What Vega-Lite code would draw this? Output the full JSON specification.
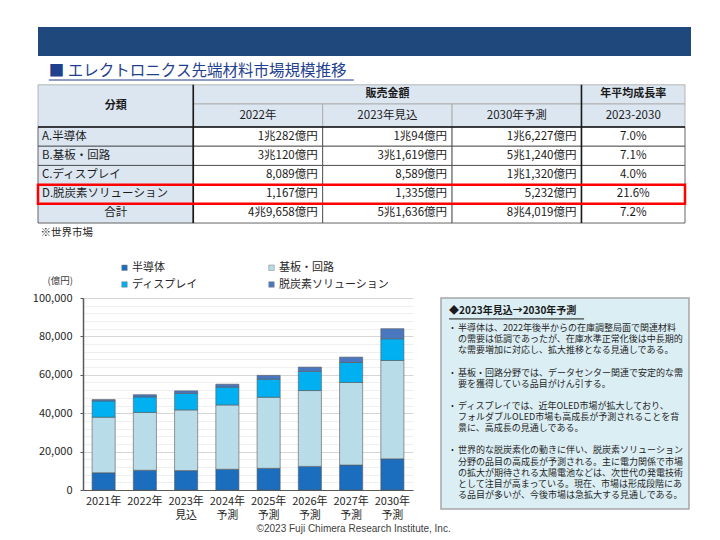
{
  "$schema": "https://vega.github.io/schema/vega-lite/v6.json",
  "background": "white",
  "padding": {"left": 32, "top": 27, "right": 10, "bottom": 4},
  "spacing": 0,
  "bounds": "flush",
  "config": {
    "font": "Noto Sans CJK JP",
    "view": {"stroke": null},
    "concat": {"spacing": 0}
  },
  "title": {
    "text": "©2023 Fuji Chimera Research Institute, Inc.",
    "orient": "bottom",
    "anchor": "middle",
    "font": "Liberation Sans",
    "fontSize": 10,
    "fontWeight": "normal",
    "color": "#404040",
    "offset": 4,
    "dx": -8
  },
  "resolve": {"scale": {"color": "independent"}, "legend": {"color": "independent"}},
  "datasets": {
    "cells": [
      {"row": "H", "r0": 1.5, "r1": 3.7, "c0": 0, "c1": 6, "kind": "head1", "t": "分類"},
      {"row": "H", "r0": 1.5, "r1": 2.5, "c0": 6, "c1": 21, "kind": "head1", "t": "販売金額"},
      {"row": "H", "r0": 1.5, "r1": 2.5, "c0": 21, "c1": 25, "kind": "head1", "t": "年平均成長率"},
      {"row": "H", "r0": 2.5, "r1": 3.7, "c0": 6, "c1": 11, "kind": "head2", "t": "2022年"},
      {"row": "H", "r0": 2.5, "r1": 3.7, "c0": 11, "c1": 16, "kind": "head2", "t": "2023年見込"},
      {"row": "H", "r0": 2.5, "r1": 3.7, "c0": 16, "c1": 21, "kind": "head2", "t": "2030年予測"},
      {"row": "H", "r0": 2.5, "r1": 3.7, "c0": 21, "c1": 25, "kind": "head2", "t": "2023-2030"},
      {"row": "A", "r0": 3.7, "r1": 4.7, "c0": 0, "c1": 6, "kind": "cat", "t": "A.半導体"},
      {"row": "A", "r0": 3.7, "r1": 4.7, "c0": 6, "c1": 11, "kind": "num", "t": "1兆282億円"},
      {"row": "A", "r0": 3.7, "r1": 4.7, "c0": 11, "c1": 16, "kind": "num", "t": "1兆94億円"},
      {"row": "A", "r0": 3.7, "r1": 4.7, "c0": 16, "c1": 21, "kind": "num", "t": "1兆6,227億円"},
      {"row": "A", "r0": 3.7, "r1": 4.7, "c0": 21, "c1": 25, "kind": "rate", "t": "7.0%"},
      {"row": "B", "r0": 4.7, "r1": 5.7, "c0": 0, "c1": 6, "kind": "cat", "t": "B.基板・回路"},
      {"row": "B", "r0": 4.7, "r1": 5.7, "c0": 6, "c1": 11, "kind": "num", "t": "3兆120億円"},
      {"row": "B", "r0": 4.7, "r1": 5.7, "c0": 11, "c1": 16, "kind": "num", "t": "3兆1,619億円"},
      {"row": "B", "r0": 4.7, "r1": 5.7, "c0": 16, "c1": 21, "kind": "num", "t": "5兆1,240億円"},
      {"row": "B", "r0": 4.7, "r1": 5.7, "c0": 21, "c1": 25, "kind": "rate", "t": "7.1%"},
      {"row": "C", "r0": 5.7, "r1": 6.7, "c0": 0, "c1": 6, "kind": "cat", "t": "C.ディスプレイ"},
      {"row": "C", "r0": 5.7, "r1": 6.7, "c0": 6, "c1": 11, "kind": "num", "t": "8,089億円"},
      {"row": "C", "r0": 5.7, "r1": 6.7, "c0": 11, "c1": 16, "kind": "num", "t": "8,589億円"},
      {"row": "C", "r0": 5.7, "r1": 6.7, "c0": 16, "c1": 21, "kind": "num", "t": "1兆1,320億円"},
      {"row": "C", "r0": 5.7, "r1": 6.7, "c0": 21, "c1": 25, "kind": "rate", "t": "4.0%"},
      {"row": "D", "r0": 6.7, "r1": 7.7, "c0": 0, "c1": 6, "kind": "cat", "t": "D.脱炭素ソリューション"},
      {"row": "D", "r0": 6.7, "r1": 7.7, "c0": 6, "c1": 11, "kind": "num", "t": "1,167億円"},
      {"row": "D", "r0": 6.7, "r1": 7.7, "c0": 11, "c1": 16, "kind": "num", "t": "1,335億円"},
      {"row": "D", "r0": 6.7, "r1": 7.7, "c0": 16, "c1": 21, "kind": "num", "t": "5,232億円"},
      {"row": "D", "r0": 6.7, "r1": 7.7, "c0": 21, "c1": 25, "kind": "rate", "t": "21.6%"},
      {"row": "T", "r0": 7.7, "r1": 8.7, "c0": 0, "c1": 6, "kind": "total", "t": "合計"},
      {"row": "T", "r0": 7.7, "r1": 8.7, "c0": 6, "c1": 11, "kind": "num", "t": "4兆9,658億円"},
      {"row": "T", "r0": 7.7, "r1": 8.7, "c0": 11, "c1": 16, "kind": "num", "t": "5兆1,636億円"},
      {"row": "T", "r0": 7.7, "r1": 8.7, "c0": 16, "c1": 21, "kind": "num", "t": "8兆4,019億円"},
      {"row": "T", "r0": 7.7, "r1": 8.7, "c0": 21, "c1": 25, "kind": "rate", "t": "7.2%"}
    ],
    "market": [
      {"year": "2021年", "cat": "半導体", "value": 9000},
      {"year": "2021年", "cat": "基板・回路", "value": 28900},
      {"year": "2021年", "cat": "ディスプレイ", "value": 8500},
      {"year": "2021年", "cat": "脱炭素ソリューション", "value": 700},
      {"year": "2022年", "cat": "半導体", "value": 10282},
      {"year": "2022年", "cat": "基板・回路", "value": 30120},
      {"year": "2022年", "cat": "ディスプレイ", "value": 8089},
      {"year": "2022年", "cat": "脱炭素ソリューション", "value": 1167},
      {"year": "2023年見込", "cat": "半導体", "value": 10094},
      {"year": "2023年見込", "cat": "基板・回路", "value": 31619},
      {"year": "2023年見込", "cat": "ディスプレイ", "value": 8589},
      {"year": "2023年見込", "cat": "脱炭素ソリューション", "value": 1335},
      {"year": "2024年予測", "cat": "半導体", "value": 10800},
      {"year": "2024年予測", "cat": "基板・回路", "value": 33500},
      {"year": "2024年予測", "cat": "ディスプレイ", "value": 9300},
      {"year": "2024年予測", "cat": "脱炭素ソリューション", "value": 1500},
      {"year": "2025年予測", "cat": "半導体", "value": 11300},
      {"year": "2025年予測", "cat": "基板・回路", "value": 37000},
      {"year": "2025年予測", "cat": "ディスプレイ", "value": 9400},
      {"year": "2025年予測", "cat": "脱炭素ソリューション", "value": 2000},
      {"year": "2026年予測", "cat": "半導体", "value": 12300},
      {"year": "2026年予測", "cat": "基板・回路", "value": 39500},
      {"year": "2026年予測", "cat": "ディスプレイ", "value": 10000},
      {"year": "2026年予測", "cat": "脱炭素ソリューション", "value": 2200},
      {"year": "2027年予測", "cat": "半導体", "value": 13000},
      {"year": "2027年予測", "cat": "基板・回路", "value": 43000},
      {"year": "2027年予測", "cat": "ディスプレイ", "value": 10400},
      {"year": "2027年予測", "cat": "脱炭素ソリューション", "value": 2800},
      {"year": "2030年予測", "cat": "半導体", "value": 16227},
      {"year": "2030年予測", "cat": "基板・回路", "value": 51240},
      {"year": "2030年予測", "cat": "ディスプレイ", "value": 11320},
      {"year": "2030年予測", "cat": "脱炭素ソリューション", "value": 5232}
    ],
    "notes": [
      {"kind": "title", "ln": -1.5, "t": "◆2023年見込→2030年予測"},
      {"kind": "bullet", "ln": 0, "t": "•"},
      {"kind": "bullet", "ln": 4, "t": "•"},
      {"kind": "bullet", "ln": 7, "t": "•"},
      {"kind": "bullet", "ln": 11, "t": "•"},
      {"kind": "body", "ln": 0, "t": "半導体は、2022年後半からの在庫調整局面で関連材料"},
      {"kind": "body", "ln": 1, "t": "の需要は低調であったが、在庫水準正常化後は中長期的"},
      {"kind": "body", "ln": 2, "t": "な需要増加に対応し、拡大推移となる見通しである。"},
      {"kind": "body", "ln": 4, "t": "基板・回路分野では、データセンター関連で安定的な需"},
      {"kind": "body", "ln": 5, "t": "要を獲得している品目がけん引する。"},
      {"kind": "body", "ln": 7, "t": "ディスプレイでは、近年OLED市場が拡大しており、"},
      {"kind": "body", "ln": 8, "t": "フォルダブルOLED市場も高成長が予測されることを背"},
      {"kind": "body", "ln": 9, "t": "景に、高成長の見通しである。"},
      {"kind": "body", "ln": 11, "t": "世界的な脱炭素化の動きに伴い、脱炭素ソリューション"},
      {"kind": "body", "ln": 12, "t": "分野の品目の高成長が予測される。主に電力関係で市場"},
      {"kind": "body", "ln": 13, "t": "の拡大が期待される太陽電池などは、次世代の発電技術"},
      {"kind": "body", "ln": 14, "t": "として注目が高まっている。現在、市場は形成段階にあ"},
      {"kind": "body", "ln": 15, "t": "る品目が多いが、今後市場は急拡大する見通しである。"}
    ]
  },
  "vconcat": [
    {
      "width": 653,
      "height": 29,
      "view": {"fill": "#1f497d", "stroke": null},
      "data": {"values": [{}]},
      "mark": {"type": "text", "text": ""},
      "encoding": {}
    },
    {
      "width": 647,
      "height": 242,
      "data": {"name": "cells"},
      "transform": [
        {"calculate": "(datum.c0 + datum.c1) / 2", "as": "cx"},
        {"calculate": "(datum.r0 + datum.r1) / 2", "as": "cy"}
      ],
      "layer": [
        {
          "transform": [{"filter": "datum.kind === 'head1' || datum.kind === 'head2'"}],
          "mark": {"type": "rect", "fill": "#dce6f1", "stroke": "#a6a6a6", "strokeWidth": 0.8},
          "encoding": {
            "x": {"field": "c0", "type": "quantitative", "scale": {"domain": [0, 25], "nice": false, "zero": false}, "axis": null},
            "x2": {"field": "c1"},
            "y": {"field": "r0", "type": "quantitative", "scale": {"domain": [0, 12.604], "reverse": true, "nice": false, "zero": false}, "axis": null},
            "y2": {"field": "r1"}
          }
        },
        {
          "transform": [{"filter": "datum.kind !== 'head1' && datum.kind !== 'head2'"}],
          "mark": {"type": "rect", "stroke": "#404040", "strokeWidth": 0.8},
          "encoding": {
            "x": {"field": "c0", "type": "quantitative"},
            "x2": {"field": "c1"},
            "y": {"field": "r0", "type": "quantitative"},
            "y2": {"field": "r1"},
            "fill": {"condition": {"test": "datum.kind === 'cat' || datum.kind === 'total'", "value": "#dce6f1"}, "value": "#ffffff"}
          }
        },
        {
          "data": {"values": [{"c": 6}, {"c": 21}]},
          "mark": {"type": "rule", "stroke": "#1a1a1a", "strokeWidth": 1.6},
          "encoding": {
            "x": {"field": "c", "type": "quantitative"},
            "y": {"datum": 1.5, "type": "quantitative"},
            "y2": {"datum": 8.7}
          }
        },
        {
          "data": {"values": [{"r": 3.7}]},
          "mark": {"type": "rule", "stroke": "#1a1a1a", "strokeWidth": 1.4},
          "encoding": {
            "y": {"field": "r", "type": "quantitative"},
            "x": {"datum": 0, "type": "quantitative"},
            "x2": {"datum": 25}
          }
        },
        {
          "transform": [
            {"filter": "datum.row === 'D'"},
            {"aggregate": [
              {"op": "min", "field": "c0", "as": "c0"},
              {"op": "max", "field": "c1", "as": "c1"},
              {"op": "min", "field": "r0", "as": "r0"},
              {"op": "max", "field": "r1", "as": "r1"}
            ]}
          ],
          "mark": {"type": "rect", "fill": null, "fillOpacity": 0, "stroke": "#ff0000", "strokeWidth": 2.5},
          "encoding": {
            "x": {"field": "c0", "type": "quantitative"},
            "x2": {"field": "c1"},
            "y": {"field": "r0", "type": "quantitative"},
            "y2": {"field": "r1"}
          }
        },
        {
          "transform": [{"filter": "datum.kind === 'head1'"}],
          "mark": {"type": "text", "align": "center", "baseline": "middle", "fontSize": 11, "fontWeight": "bold", "color": "#1a1a1a"},
          "encoding": {
            "x": {"field": "cx", "type": "quantitative"},
            "y": {"field": "cy", "type": "quantitative"},
            "text": {"field": "t"}
          }
        },
        {
          "transform": [{"filter": "datum.kind === 'head2' || datum.kind === 'total' || datum.kind === 'rate'"}],
          "mark": {"type": "text", "align": "center", "baseline": "middle", "fontSize": 11.5, "color": "#1a1a1a"},
          "encoding": {
            "x": {"field": "cx", "type": "quantitative"},
            "y": {"field": "cy", "type": "quantitative"},
            "text": {"field": "t"}
          }
        },
        {
          "transform": [{"filter": "datum.kind === 'cat'"}],
          "mark": {"type": "text", "align": "left", "baseline": "middle", "fontSize": 11.5, "dx": 4, "color": "#1a1a1a"},
          "encoding": {
            "x": {"field": "c0", "type": "quantitative"},
            "y": {"field": "cy", "type": "quantitative"},
            "text": {"field": "t"}
          }
        },
        {
          "transform": [{"filter": "datum.kind === 'num'"}],
          "mark": {"type": "text", "align": "right", "baseline": "middle", "fontSize": 11.5, "dx": -5, "color": "#1a1a1a"},
          "encoding": {
            "x": {"field": "c1", "type": "quantitative"},
            "y": {"field": "cy", "type": "quantitative"},
            "text": {"field": "t"}
          }
        },
        {
          "data": {"values": [{"t": "■ エレクトロニクス先端材料市場規模推移"}]},
          "mark": {"type": "text", "align": "left", "baseline": "middle", "fontSize": 15.5, "color": "#1f3f8f"},
          "encoding": {
            "x": {"datum": 0.42, "type": "quantitative"},
            "y": {"datum": 0.78, "type": "quantitative"},
            "text": {"field": "t"}
          }
        },
        {
          "data": {"values": [{}]},
          "mark": {"type": "rule", "stroke": "#1f3f8f", "strokeWidth": 1},
          "encoding": {
            "x": {"datum": 0.42, "type": "quantitative"},
            "x2": {"datum": 12.2},
            "y": {"datum": 1.25, "type": "quantitative"}
          }
        },
        {
          "data": {"values": [{"t": "※世界市場"}]},
          "mark": {"type": "text", "align": "left", "baseline": "middle", "fontSize": 10.5, "color": "#262626"},
          "encoding": {
            "x": {"datum": 0.1, "type": "quantitative"},
            "y": {"datum": 9.22, "type": "quantitative"},
            "text": {"field": "t"}
          }
        }
      ]
    },
    {
      "resolve": {"scale": {"color": "independent"}, "legend": {"color": "independent"}},
      "hconcat": [
        {
          "width": 17,
          "height": 1,
          "data": {"values": [{}]},
          "mark": {"type": "text", "text": ""},
          "encoding": {}
        },
        {
          "width": 330,
          "height": 192,
          "data": {"name": "market"},
          "transform": [
            {"calculate": "indexof(['半導体', '基板・回路', 'ディスプレイ', '脱炭素ソリューション'], datum.cat)", "as": "k"}
          ],
          "mark": {"type": "bar", "stroke": "#595959", "strokeWidth": 0.6},
          "encoding": {
            "x": {
              "field": "year",
              "type": "nominal",
              "sort": null,
              "scale": {"paddingInner": 0.44, "paddingOuter": 0.22},
              "axis": {
                "title": null,
                "labelAngle": 0,
                "labelExpr": "length(datum.label) > 5 ? [substring(datum.label, 0, 5), substring(datum.label, 5)] : datum.label",
                "ticks": false,
                "domainColor": "#595959",
                "domainWidth": 1.2,
                "labelFontSize": 11,
                "labelColor": "#262626",
                "labelPadding": 5,
                "labelLineHeight": 14
              }
            },
            "y": {
              "field": "value",
              "type": "quantitative",
              "stack": "zero",
              "scale": {"domain": [0, 100000], "nice": false},
              "axis": {
                "values": [0, 4000, 8000, 12000, 16000, 20000, 24000, 28000, 32000, 36000, 40000, 44000, 48000, 52000, 56000, 60000, 64000, 68000, 72000, 76000, 80000, 84000, 88000, 92000, 96000, 100000],
                "format": ",d",
                "labelExpr": "datum.value % 20000 === 0 ? datum.label : ''",
                "grid": true,
                "gridColor": {"condition": {"test": "datum.value % 20000 === 0", "value": "#d6d6d6"}, "value": "#efefef"},
                "tickSize": 3,
                "tickOpacity": {"condition": {"test": "datum.value % 20000 === 0", "value": 1}, "value": 0},
                "tickColor": "#595959",
                "domainColor": "#595959",
                "domainWidth": 1.5,
                "labelFontSize": 11,
                "labelColor": "#262626",
                "labelPadding": 8,
                "title": "(億円)",
                "titleAngle": 0,
                "titleAlign": "left",
                "titleBaseline": "middle",
                "titleX": -36,
                "titleY": -18,
                "titleFontSize": 9.5,
                "titleFontWeight": "normal",
                "titleColor": "#404040"
              }
            },
            "color": {
              "field": "cat",
              "type": "nominal",
              "sort": ["半導体", "基板・回路", "ディスプレイ", "脱炭素ソリューション"],
              "scale": {
                "domain": ["半導体", "基板・回路", "ディスプレイ", "脱炭素ソリューション"],
                "range": ["#1b6dbd", "#b8dce8", "#00b0f0", "#4a78c0"]
              },
              "legend": {
                "title": null,
                "orient": "none",
                "legendX": 36,
                "legendY": -36,
                "columns": 2,
                "direction": "horizontal",
                "symbolType": "square",
                "symbolSize": 30,
                "symbolStrokeColor": "#7f7f7f",
                "symbolStrokeWidth": 0.5,
                "labelFontSize": 11,
                "labelColor": "#262626",
                "labelOffset": 2,
                "columnPadding": 68,
                "rowPadding": 5
              }
            },
            "order": {"field": "k", "type": "quantitative", "sort": "ascending"}
          }
        },
        {
          "width": 248,
          "height": 211,
          "view": {"fill": "#dbeef4", "stroke": "#a6a6a6", "strokeWidth": 1.5},
          "data": {"name": "notes"},
          "layer": [
            {
              "transform": [{"filter": "datum.kind === 'title'"}],
              "mark": {"type": "text", "align": "left", "baseline": "middle", "fontSize": 10, "fontWeight": "bold", "color": "#1a1a1a"},
              "encoding": {
                "x": {"datum": 0.9, "type": "quantitative", "scale": {"domain": [0, 27.56], "nice": false, "zero": false}, "axis": null},
                "y": {"field": "ln", "type": "quantitative", "scale": {"domain": [-2.7, 16.26], "reverse": true, "nice": false, "zero": false}, "axis": null},
                "text": {"field": "t"}
              }
            },
            {
              "data": {"values": [{}]},
              "mark": {"type": "rule", "stroke": "#1a1a1a", "strokeWidth": 1},
              "encoding": {
                "x": {"datum": 0.9, "type": "quantitative"},
                "x2": {"datum": 15.9},
                "y": {"datum": -0.82, "type": "quantitative"}
              }
            },
            {
              "transform": [{"filter": "datum.kind === 'bullet'"}],
              "mark": {"type": "text", "align": "left", "baseline": "middle", "fontSize": 7, "color": "#1a1a1a"},
              "encoding": {
                "x": {"datum": 1.15, "type": "quantitative"},
                "y": {"field": "ln", "type": "quantitative"},
                "text": {"field": "t"}
              }
            },
            {
              "transform": [{"filter": "datum.kind === 'body'"}],
              "mark": {"type": "text", "align": "left", "baseline": "middle", "fontSize": 9, "color": "#262626"},
              "encoding": {
                "x": {"datum": 1.9, "type": "quantitative"},
                "y": {"field": "ln", "type": "quantitative"},
                "text": {"field": "t"}
              }
            }
          ]
        }
      ],
      "spacing": 28,
      "bounds": "flush"
    }
  ]
}
